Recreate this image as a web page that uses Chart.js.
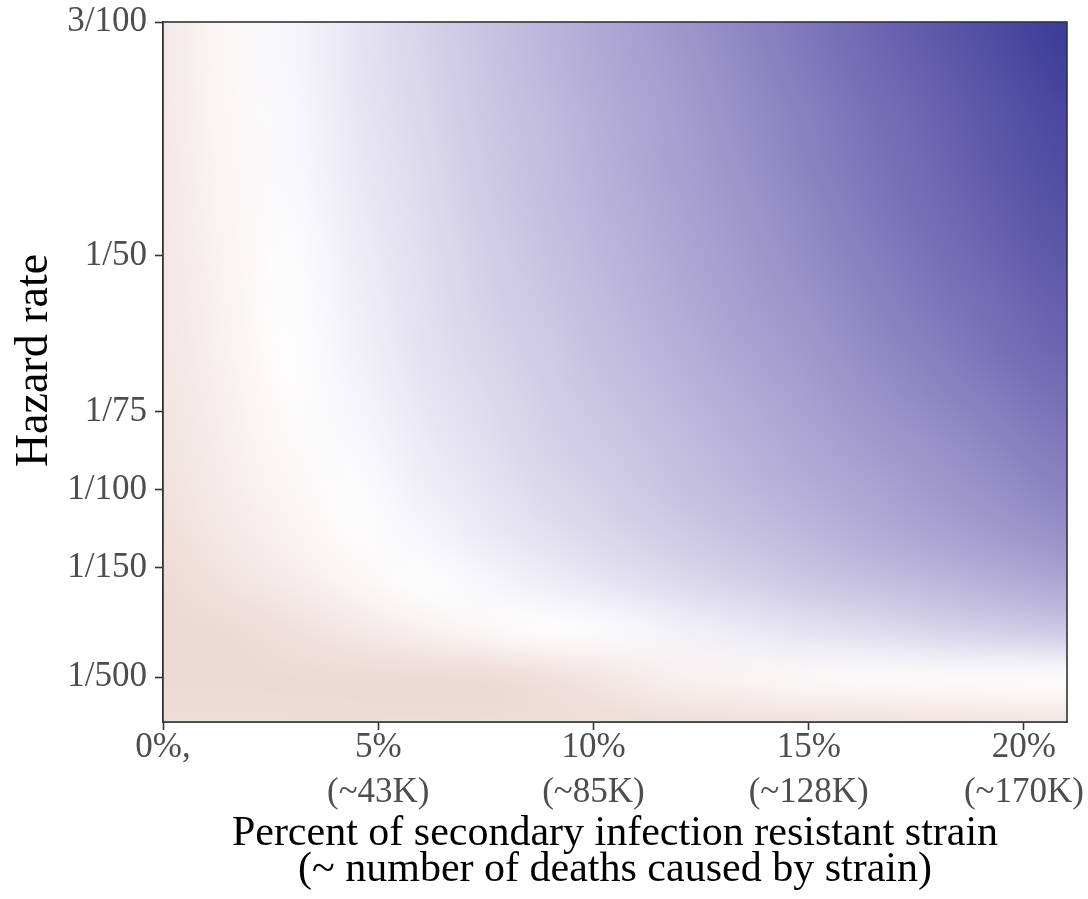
<!DOCTYPE html>
<html><head><meta charset="utf-8">
<script src="https://cdn.jsdelivr.net/npm/chart.js@4.4.1/dist/chart.umd.min.js"></script>
<style>html,body{margin:0;padding:0;background:#fff;}#wrap{width:1088px;height:899px;}</style>
</head><body><div id="wrap"><canvas id="c" width="1088" height="899"></canvas></div>
<script>
// ---- data ----
const xGrid = [0, 1.5, 3, 4.5, 6, 7.5, 9, 10.5, 12, 13.5, 15, 16.5, 18, 19.5, 21];           // % resistant
const hazardGrid = [0, 0.002, 0.004, 0.006, 0.008, 0.010, 0.012, 0.014, 0.016, 0.018, 0.020, 0.022, 0.024, 0.026, 0.028, 0.030];
// signed colour value per cell (negative = red side, positive = blue side), one array per hazard row
const h000 = [-0.95,-0.95,-0.95,-0.95,-0.95,-0.95,-0.95,-0.93,-0.90,-0.88,-0.85,-0.82,-0.80,-0.78,-0.75];
const h002 = [-1.00,-1.00,-1.00,-1.00,-1.00,-1.00,-0.86,-0.62,-0.38,-0.26,-0.16,-0.10,-0.07,-0.05,-0.05];
const h004 = [-1.00,-1.00,-0.84,-0.62,-0.40,-0.18,-0.02,0.02,0.06,0.09,0.13,0.16,0.20,0.23,0.26];
const h006 = [-1.00,-0.78,-0.53,-0.28,-0.03,0.04,0.08,0.12,0.17,0.21,0.26,0.30,0.34,0.39,0.43];
const h008 = [-0.90,-0.63,-0.35,-0.08,0.04,0.09,0.14,0.19,0.24,0.29,0.34,0.40,0.45,0.50,0.55];
const h010 = [-0.82,-0.52,-0.23,0.01,0.07,0.12,0.18,0.23,0.29,0.34,0.40,0.45,0.51,0.56,0.62];
const h012 = [-0.76,-0.45,-0.14,0.03,0.09,0.15,0.21,0.26,0.32,0.38,0.44,0.50,0.55,0.61,0.67];
const h014 = [-0.72,-0.40,-0.07,0.05,0.11,0.17,0.23,0.29,0.35,0.41,0.48,0.54,0.60,0.66,0.72];
const h016 = [-0.69,-0.35,-0.02,0.06,0.13,0.19,0.25,0.32,0.38,0.45,0.51,0.58,0.64,0.71,0.77];
const h018 = [-0.67,-0.32,0.01,0.07,0.14,0.21,0.27,0.34,0.41,0.48,0.54,0.61,0.68,0.74,0.81];
const h020 = [-0.65,-0.29,0.01,0.08,0.15,0.22,0.29,0.36,0.43,0.50,0.57,0.64,0.71,0.78,0.85];
const h022 = [-0.63,-0.26,0.02,0.09,0.16,0.24,0.31,0.38,0.45,0.52,0.59,0.67,0.74,0.81,0.88];
const h024 = [-0.62,-0.24,0.03,0.10,0.17,0.25,0.32,0.40,0.47,0.54,0.62,0.69,0.76,0.84,0.91];
const h026 = [-0.61,-0.22,0.03,0.11,0.18,0.26,0.33,0.41,0.48,0.56,0.63,0.71,0.78,0.86,0.93];
const h028 = [-0.60,-0.20,0.04,0.12,0.19,0.27,0.35,0.43,0.50,0.58,0.66,0.74,0.81,0.89,0.97];
const h030 = [-0.59,-0.19,0.04,0.12,0.20,0.28,0.36,0.44,0.52,0.60,0.68,0.76,0.84,0.92,1.00];
const fieldRows = [h000,h002,h004,h006,h008,h010,h012,h014,h016,h018,h020,h022,h024,h026,h028,h030];

const xTickValues = [0, 5, 10, 15, 20];
const xTickLabels = [["0%,"], ["5%", "(~43K)"], ["10%", "(~85K)"], ["15%", "(~128K)"], ["20%", "(~170K)"]];
const yTickValues = [1/500, 1/150, 1/100, 1/75, 1/50, 3/100];
const yTickLabels = ["1/500", "1/150", "1/100", "1/75", "1/50", "3/100"];

// ---- colour scale ----
const negStops = [[0,[255,255,255]],[1,[237,218,214]]];
const posStops = [[0,[255,255,255]],[0.1,[234,232,244]],[0.25,[206,201,229]],[0.5,[162,154,205]],[0.75,[112,104,178]],[1,[58,58,152]]];
function colourFor(t){
  const stops = t < 0 ? negStops : posStops;
  const a = Math.min(1, Math.abs(t));
  for (let i = 1; i < stops.length; i++){
    if (a <= stops[i][0]){
      const f = (a - stops[i-1][0]) / (stops[i][0] - stops[i-1][0]);
      return stops[i-1][1].map((c,k)=>Math.round(c + (stops[i][1][k]-c)*f));
    }
  }
  return stops[stops.length-1][1];
}

const cells = [];
fieldRows.forEach((row, j) => row.forEach((v, i) => cells.push({x: xGrid[i], y: hazardGrid[j], v})));

const FONT = "'Liberation Serif','Times New Roman',serif";

const heatmapPlugin = {
  id: 'heatmap',
  beforeDatasetsDraw(chart){
    const {ctx, chartArea: a, scales: {x, y}} = chart;
    const data = chart.data.datasets[0].data;
    const nx = xGrid.length, ny = hazardGrid.length;
    const off = document.createElement('canvas');
    off.width = nx; off.height = ny;
    const octx = off.getContext('2d');
    const img = octx.createImageData(nx, ny);
    data.forEach(c => {
      const i = xGrid.indexOf(c.x), j = hazardGrid.indexOf(c.y);
      const row = ny - 1 - j;
      const col = colourFor(c.v);
      const p = (row * nx + i) * 4;
      img.data[p] = col[0]; img.data[p+1] = col[1]; img.data[p+2] = col[2]; img.data[p+3] = 255;
    });
    octx.putImageData(img, 0, 0);
    const dx = (xGrid[1] - xGrid[0]) / 2, dy = (hazardGrid[1] - hazardGrid[0]) / 2;
    const left = x.getPixelForValue(xGrid[0] - dx), right = x.getPixelForValue(xGrid[nx-1] + dx);
    const top = y.getPixelForValue(hazardGrid[ny-1] + dy), bottom = y.getPixelForValue(hazardGrid[0] - dy);
    ctx.save();
    ctx.beginPath(); ctx.rect(a.left, a.top, a.right - a.left, a.bottom - a.top); ctx.clip();
    ctx.imageSmoothingEnabled = true; ctx.imageSmoothingQuality = 'high';
    ctx.drawImage(off, left, top, right - left, bottom - top);
    ctx.restore();
  },
  afterDatasetsDraw(chart){
    const {ctx, chartArea: a} = chart;
    ctx.save();
    ctx.strokeStyle = '#333333'; ctx.lineWidth = 1.6;
    ctx.strokeRect(a.left, a.top, a.right - a.left, a.bottom - a.top);
    ctx.restore();
  }
};

new Chart(document.getElementById('c'), {
  type: 'scatter',
  data: { datasets: [{ data: cells, pointRadius: 0, pointHoverRadius: 0, showLine: false }] },
  options: {
    responsive: false, animation: false, devicePixelRatio: 1,
    layout: { padding: { top: 22, right: 21, bottom: 0, left: 0 } },
    plugins: { legend: { display: false }, tooltip: { enabled: false } },
    events: [],
    scales: {
      x: {
        type: 'linear', min: 0, max: 21,
        afterBuildTicks: s => { s.ticks = xTickValues.map(v => ({value: v})); },
        afterFit: s => { s.height = 177; s.paddingLeft = 0; s.paddingRight = 0; },
        grid: { drawOnChartArea: false, drawTicks: true, tickLength: 8, tickColor: '#333333', tickWidth: 1.6 },
        border: { display: true, color: '#333333', width: 1.6 },
        ticks: { color: '#4d4d4d', padding: -5, maxRotation: 0, autoSkip: false,
          font: { family: FONT, size: 35, lineHeight: 1.3 },
          callback: v => xTickLabels[xTickValues.indexOf(v)] },
        title: { display: true, text: ["Percent of secondary infection resistant strain", "(~ number of deaths caused by strain)"],
          color: '#000000', font: { family: FONT, size: 42, lineHeight: 0.857 }, padding: { top: 0, bottom: 11 } }
      },
      y: {
        type: 'linear', min: 0.00008, max: 0.03,
        afterBuildTicks: s => { s.ticks = yTickValues.map(v => ({value: v})); },
        afterFit: s => { s.width = 163; s.paddingTop = 0; s.paddingBottom = 0; },
        grid: { drawOnChartArea: false, drawTicks: true, tickLength: 8, tickColor: '#333333', tickWidth: 1.6 },
        border: { display: true, color: '#333333', width: 1.6 },
        ticks: { color: '#4d4d4d', padding: 8, autoSkip: false,
          font: { family: FONT, size: 35, lineHeight: 1.2 },
          callback: v => yTickLabels[yTickValues.indexOf(v)] },
        title: { display: true, text: "  Hazard rate", color: '#000000',
          font: { family: FONT, size: 46, lineHeight: 1.2 }, padding: { top: 7, bottom: 0 } }
      }
    }
  },
  plugins: [heatmapPlugin]
});
</script></body></html>
